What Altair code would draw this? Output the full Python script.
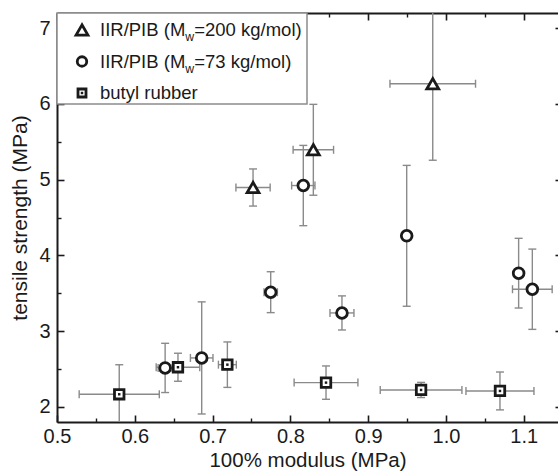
import altair as alt
import pandas as pd

FONT = "Liberation Sans"
DARK = "#1a1a1a"
GRAY = "#8a8a8a"

series_names = ["IIR/PIB (Mw=200 kg/mol)", "IIR/PIB (Mw=73 kg/mol)", "butyl rubber"]
legend_prefix = ["IIR/PIB (M", "IIR/PIB (M", "butyl rubber"]
legend_sub = ["w", "w", ""]
legend_suffix = ["=200 kg/mol)", "=73 kg/mol)", ""]

# IIR/PIB, Mw = 200 kg/mol (triangles)
tri_x = [0.752, 0.8295, 0.983]
tri_y = [4.896, 5.394, 6.266]
tri_xerr = [0.022, 0.026, 0.055]
tri_yerr = [0.245, 0.60, 1.01]

# IIR/PIB, Mw = 73 kg/mol (circles)
circ_x = [0.639, 0.686, 0.7747, 0.8166, 0.8663, 0.9495, 1.0934, 1.111]
circ_y = [2.514, 2.646, 3.514, 4.922, 3.240, 4.258, 3.765, 3.553]
circ_xerr = [0.009, 0.0145, 0.0086, 0.015, 0.0154, 0.004, 0.004, 0.0255]
circ_yerr = [0.325, 0.74, 0.27, 0.53, 0.225, 0.93, 0.46, 0.53]

# butyl rubber (squares)
sq_x = [0.580, 0.6555, 0.719, 0.8458, 0.968, 1.0694]
sq_y = [2.166, 2.523, 2.557, 2.32, 2.223, 2.21]
sq_xerr = [0.0515, 0.028, 0.0115, 0.041, 0.0525, 0.0437]
sq_yerr = [0.39, 0.185, 0.30, 0.22, 0.10, 0.25]

x_major = [0.5, 0.6, 0.7, 0.8, 0.9, 1.0, 1.1]
x_minor = [0.55, 0.65, 0.75, 0.85, 0.95, 1.05]
y_major = [2, 3, 4, 5, 6, 7]
y_minor = [2.5, 3.5, 4.5, 5.5, 6.5]

rows = []
for name, xs_, ys_, xe, ye in [
    (series_names[0], tri_x, tri_y, tri_xerr, tri_yerr),
    (series_names[1], circ_x, circ_y, circ_xerr, circ_yerr),
    (series_names[2], sq_x, sq_y, sq_xerr, sq_yerr),
]:
    for a, b, c, d in zip(xs_, ys_, xe, ye):
        rows.append({"series": name, "x": a, "y": b,
                     "xlo": a - c, "xhi": a + c, "ylo": b - d, "yhi": b + d})
df = pd.DataFrame(rows)

xs = alt.Scale(domain=[0.5, 1.144], nice=False, zero=False)
ys = alt.Scale(domain=[1.8, 7.2], nice=False, zero=False)

common = dict(grid=False, labelFont=FONT, titleFont=FONT, labelColor=DARK,
              titleColor=DARK, tickColor=DARK, domainColor=DARK)

ax_bottom_major = alt.Axis(orient="bottom", values=x_major, format=".1f", offset=-7,
                           tickSize=7, tickWidth=1.6, domain=False, labelFontSize=20,
                           labelPadding=4, labelFlush=False, labelOverlap=False,
                           title="100% modulus (MPa)", titleFontSize=20.5,
                           titleFontWeight="normal", titlePadding=4, **common)
ax_left_major = alt.Axis(orient="left", values=y_major, format="d", offset=-7,
                         tickSize=7, tickWidth=1.6, domain=False, labelFontSize=20,
                         labelPadding=7, labelFlush=False, labelOverlap=False,
                         title="tensile strength (MPa)", titleFontSize=21,
                         titleFontWeight="normal", titlePadding=8, **common)
ax_bottom_minor = alt.Axis(orient="bottom", values=x_minor, offset=-4, tickSize=4,
                           tickWidth=1.4, domain=False, labels=False, title=None, **common)
ax_left_minor = alt.Axis(orient="left", values=y_minor, offset=-4, tickSize=4,
                         tickWidth=1.4, domain=False, labels=False, title=None, **common)
ax_top_major = alt.Axis(orient="top", values=x_major, offset=-7, tickSize=7,
                        tickWidth=1.6, domain=False, labels=False, title=None, **common)
ax_right_major = alt.Axis(orient="right", values=y_major, offset=-3, tickSize=3,
                          tickWidth=1.6, domain=False, labels=False, title=None, **common)
ax_top_minor = alt.Axis(orient="top", values=x_minor, offset=-4, tickSize=4,
                        tickWidth=1.4, domain=False, labels=False, title=None, **common)
ax_bottom_frame = alt.Axis(orient="bottom", offset=0, domain=True, domainWidth=2,
                           ticks=False, labels=False, title=None, **common)
ax_left_frame = alt.Axis(orient="left", offset=0, domain=True, domainWidth=2,
                         ticks=False, labels=False, title=None, **common)
ax_top_frame = alt.Axis(orient="top", offset=0, domain=True, domainWidth=2,
                        ticks=False, labels=False, title=None, **common)

base = alt.Chart(df)

vrule = base.mark_rule(color=GRAY, strokeWidth=1.4, clip=True).encode(
    x=alt.X("x:Q", scale=xs, axis=ax_bottom_major),
    y=alt.Y("ylo:Q", scale=ys, axis=ax_left_major), y2="yhi:Q")
hrule = base.mark_rule(color=GRAY, strokeWidth=1.4, clip=True).encode(
    x=alt.X("xlo:Q", scale=xs, axis=ax_bottom_minor), x2="xhi:Q",
    y=alt.Y("y:Q", scale=ys, axis=ax_left_minor))
cap_lo = base.mark_tick(orient="horizontal", size=8, thickness=1.4, color=GRAY,
                        clip=True, opacity=1).encode(
    x=alt.X("x:Q", scale=xs, axis=ax_top_major),
    y=alt.Y("ylo:Q", scale=ys, axis=ax_right_major))
cap_hi = base.mark_tick(orient="horizontal", size=8, thickness=1.4, color=GRAY,
                        clip=True, opacity=1).encode(
    x=alt.X("x:Q", scale=xs, axis=ax_top_minor),
    y=alt.Y("yhi:Q", scale=ys, axis=None))
cap_l = base.mark_tick(orient="vertical", size=8, thickness=1.4, color=GRAY,
                       clip=True, opacity=1).encode(
    x=alt.X("xlo:Q", scale=xs, axis=ax_bottom_frame),
    y=alt.Y("y:Q", scale=ys, axis=ax_left_frame))
cap_r = base.mark_tick(orient="vertical", size=8, thickness=1.4, color=GRAY,
                       clip=True, opacity=1).encode(
    x=alt.X("xhi:Q", scale=xs, axis=ax_top_frame),
    y=alt.Y("y:Q", scale=ys, axis=None))

shape_scale = alt.Scale(domain=series_names, range=["triangle-up", "circle", "square"])
size_scale = alt.Scale(domain=series_names, range=[140, 90, 64])

points = base.mark_point(filled=True, fill="white", stroke=DARK, strokeWidth=2.8,
                         opacity=1).encode(
    x=alt.X("x:Q", scale=xs, axis=None),
    y=alt.Y("y:Q", scale=ys, axis=None),
    shape=alt.Shape("series:N", scale=shape_scale, legend=None),
    size=alt.Size("series:N", scale=size_scale, legend=None))
dots = base.transform_filter(alt.datum.series == series_names[2]).mark_point(
    filled=True, shape="square", size=6, color=DARK, opacity=1).encode(
    x=alt.X("x:Q", scale=xs, axis=None),
    y=alt.Y("y:Q", scale=ys, axis=None))

# legend (drawn inside the plot area, top-left)
one = alt.Data(values=[{"k": 0}])
legend_layers = [
    alt.Chart(one).mark_rect(fill="white", stroke="#8c8c8c", strokeWidth=1.5).encode(
        x=alt.value(0), x2=alt.value(250), y=alt.value(0), y2=alt.value(91))
]
legend_shapes = ["triangle-up", "circle", "square"]
legend_sizes = [140, 90, 64]
row_y = [17, 48.5, 80]
sym_x = 25
txt_x = 43
prefix_w = 85.3   # width of "IIR/PIB (M" at 18.5px
sub_w = 8.9       # width of "w" at 12.3px
for i in range(3):
    legend_layers.append(
        alt.Chart(one).mark_point(shape=legend_shapes[i], size=legend_sizes[i], filled=True,
                                  fill="white", stroke=DARK, strokeWidth=2.8, opacity=1)
        .encode(x=alt.value(sym_x), y=alt.value(row_y[i])))
    legend_layers.append(
        alt.Chart(one).mark_text(align="left", baseline="middle", font=FONT, fontSize=18.5,
                                 color=DARK)
        .encode(x=alt.value(txt_x), y=alt.value(row_y[i]), text=alt.value(legend_prefix[i])))
    if legend_sub[i]:
        legend_layers.append(
            alt.Chart(one).mark_text(align="left", baseline="middle", font=FONT, fontSize=12.3,
                                     color=DARK)
            .encode(x=alt.value(txt_x + prefix_w), y=alt.value(row_y[i] + 7),
                    text=alt.value(legend_sub[i])))
        legend_layers.append(
            alt.Chart(one).mark_text(align="left", baseline="middle", font=FONT, fontSize=18.5,
                                     color=DARK)
            .encode(x=alt.value(txt_x + prefix_w + sub_w), y=alt.value(row_y[i]),
                    text=alt.value(legend_suffix[i])))
legend_layers.append(
    alt.Chart(one).mark_point(shape="square", size=6, filled=True, color=DARK, opacity=1)
    .encode(x=alt.value(sym_x), y=alt.value(row_y[2])))

chart = alt.layer(
    vrule, hrule, cap_lo, cap_hi, cap_l, cap_r, points, dots, *legend_layers
).resolve_axis(
    x="independent", y="independent"
).properties(
    width=501, height=409,
    autosize=alt.AutoSizeParams(type="none"),
    padding={"left": 57, "top": 13, "right": 0, "bottom": 49},
).configure_view(
    stroke="transparent"
).configure(
    font=FONT, background="white"
)

chart.save("out.html", embed_options={"renderer": "svg", "actions": False})
